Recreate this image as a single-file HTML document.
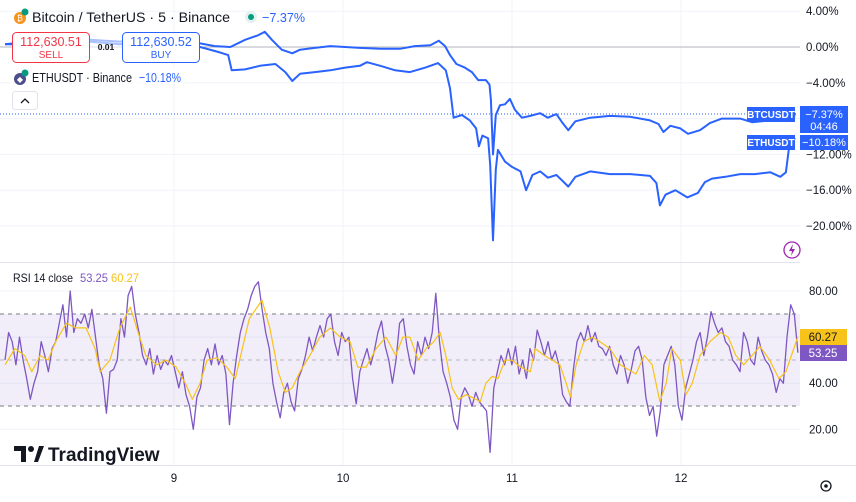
<!DOCTYPE html>
<html><head><meta charset="utf-8"><style>
body{margin:0;background:#fff;font-family:"Liberation Sans",sans-serif}
svg{display:block}
text{font-family:"Liberation Sans",sans-serif}
</style></head><body>
<svg id="chart" width="856" height="502" viewBox="0 0 856 502" xmlns="http://www.w3.org/2000/svg">
<rect width="856" height="502" fill="#fff"/>
<g id="grid"></g>
<line x1="0" y1="47" x2="800" y2="47" stroke="#b2b5be" stroke-width="1"/>
<line x1="0" y1="114" x2="746" y2="114" stroke="#2962ff" stroke-width="1" stroke-dasharray="1,2"/>
<g id="price-series"></g>
<rect x="0" y="262" width="800" height="1" fill="#e0e3eb"/>
<rect x="0" y="314" width="800" height="92" fill="#7e57c2" fill-opacity="0.1"/>
<line x1="0" y1="314" x2="800" y2="314" stroke="#787b86" stroke-dasharray="4,4"/>
<line x1="0" y1="360" x2="800" y2="360" stroke="#787b86" stroke-opacity="0.5" stroke-dasharray="4,4"/>
<line x1="0" y1="406" x2="800" y2="406" stroke="#787b86" stroke-dasharray="4,4"/>
<g id="rsi-series"></g>
<rect x="0" y="465" width="856" height="1" fill="#e0e3eb"/>
<g id="axes"></g>

<g>
<circle cx="20" cy="18" r="6" fill="#f7931a"/><text x="20" y="21" font-size="8" fill="#fff" text-anchor="middle">₿</text>
<circle cx="25" cy="12" r="3.5" fill="#089981"/>
<text x="32" y="22" font-size="14" fill="#131722" textLength="198" lengthAdjust="spacingAndGlyphs">Bitcoin / TetherUS · 5 · Binance</text>
<circle cx="251" cy="17" r="6" fill="#e3f2ef"/><circle cx="251" cy="17" r="3" fill="#089981"/>
<text x="262" y="22" font-size="13" fill="#2962ff" textLength="43" lengthAdjust="spacingAndGlyphs">−7.37%</text>
</g>
<g>
<rect x="12.5" y="32.5" width="77" height="30" rx="4" fill="#fff" stroke="#f23645"/>
<text x="51" y="46" font-size="12.5" fill="#f23645" text-anchor="middle">112,630.51</text>
<text x="51" y="58" font-size="10" fill="#f23645" text-anchor="middle">SELL</text>
</g>
<rect x="90" y="36" width="32" height="22" fill="#fff" fill-opacity="0.6"/>
<text x="106" y="50" font-size="8.5" font-weight="bold" fill="#131722" text-anchor="middle">0.01</text>
<g>
<rect x="122.5" y="32.5" width="77" height="30" rx="4" fill="#fff" stroke="#2962ff"/>
<text x="161" y="46" font-size="12.5" fill="#2962ff" text-anchor="middle">112,630.52</text>
<text x="161" y="58" font-size="10" fill="#2962ff" text-anchor="middle">BUY</text>
</g>
<g>
<rect x="10" y="66" width="175" height="18" fill="#fff" fill-opacity="0.7"/>
<circle cx="20" cy="79" r="6" fill="#4a4f8a"/><text x="20" y="82" font-size="8" fill="#fff" text-anchor="middle">◆</text>
<circle cx="25" cy="73" r="3.5" fill="#089981"/>
<text x="32" y="82" font-size="13" fill="#131722" textLength="100" lengthAdjust="spacingAndGlyphs">ETHUSDT · Binance</text>
<text x="139" y="82" font-size="13" fill="#2962ff" textLength="42" lengthAdjust="spacingAndGlyphs">−10.18%</text>
</g>
<g>
<rect x="12.5" y="91.5" width="25" height="18" rx="3" fill="#fff" stroke="#e0e3eb"/>
<path d="M21 103 L25 99 L29 103" fill="none" stroke="#131722" stroke-width="1.3"/>
</g>
<g>
<text x="13" y="282" font-size="12" fill="#131722" textLength="60" lengthAdjust="spacingAndGlyphs">RSI 14 close</text>
<text x="80" y="282" font-size="12" fill="#7e57c2" textLength="28" lengthAdjust="spacingAndGlyphs">53.25</text>
<text x="111" y="282" font-size="12" fill="#f7c21a" textLength="28" lengthAdjust="spacingAndGlyphs">60.27</text>
</g>
<g>
<path d="M14 446 h12 v16 h-5 v-11 h-7z" fill="#131722"/>
<circle cx="31" cy="449" r="3" fill="#131722"/>
<path d="M34 462 L39 446 h5 l-6 16z" fill="#131722"/>
<text x="48" y="461" font-size="19" font-weight="bold" fill="#131722">TradingView</text>
</g>
<g>
<circle cx="792" cy="250" r="8" fill="#fff" stroke="#9c27b0" stroke-width="1.3"/>
<path d="M793 244 L789 251 h3 l-1 5 l4 -7 h-3z" fill="#9c27b0"/>
</g>
<g>
<circle cx="826" cy="486" r="5" fill="none" stroke="#131722" stroke-width="1.3"/>
<circle cx="826" cy="486" r="1.8" fill="#131722"/>
</g>
<g>
<rect x="747" y="107" width="48" height="15" fill="#2962ff"/>
<text x="771" y="118" font-size="10" font-weight="bold" fill="#fff" text-anchor="middle">BTCUSDT</text>
<rect x="800" y="106" width="48" height="27" fill="#2962ff"/>
<text x="824" y="118" font-size="11" fill="#fff" text-anchor="middle">−7.37%</text>
<text x="824" y="130" font-size="11" fill="#fff" text-anchor="middle">04:46</text>
<rect x="747" y="135" width="48" height="15" fill="#2962ff"/>
<text x="771" y="146" font-size="10" font-weight="bold" fill="#fff" text-anchor="middle">ETHUSDT</text>
<rect x="800" y="135" width="48" height="15" fill="#2962ff"/>
<text x="824" y="146" font-size="11" fill="#fff" text-anchor="middle">−10.18%</text>
<rect x="800" y="329" width="47" height="16" fill="#f7c21a"/>
<text x="823" y="341" font-size="11.5" fill="#131722" text-anchor="middle">60.27</text>
<rect x="800" y="345" width="47" height="16" fill="#7e57c2"/>
<text x="823" y="357" font-size="11.5" fill="#fff" text-anchor="middle">53.25</text>
</g>
</svg>
<script>
const btcHours=[0,3.6,7.8,12.1,16.3,20.6,24.9,27.7,29.8,32.0,34.1,35.9,36.9,37.9,39.3,40.8,41.9,44.0,46.2,48.3,50.4,53.3,56.1,58.2,60.4,61.6,62.5,63.2,64.1,65.3,66.3,67.2,68.3,68.8,69.0,69.3,69.7,70.3,71.0,71.7,72.4,73.4,74.6,76.0,77.1,78.3,79.1,80.0,81.0,83.1,85.9,88.8,91.6,92.8,93.5,94.5,95.9,97.0,98.7,100.1,101.8,104.4,106.1,108.7,110.9,111.5,111.9,112.2];
const btcPct=[0.3,0.6,0.3,0.8,0.6,1.0,0.6,0.4,0.1,0.0,0.8,1.3,1.7,0.8,-0.3,-0.7,-0.3,-0.1,0.1,0.0,-0.1,-0.2,-0.2,0.1,0.2,0.7,0.1,-0.9,-1.9,-2.3,-2.8,-3.7,-3.7,-4.2,-5.9,-12.0,-7.6,-6.5,-6.4,-5.8,-7.0,-7.9,-7.7,-7.4,-7.9,-7.5,-8.4,-9.3,-8.3,-7.9,-7.7,-7.8,-8.2,-8.6,-9.5,-8.8,-9.1,-9.7,-9.3,-8.5,-8.0,-8.0,-8.4,-8.2,-8.2,-7.3,-8.2,-7.37];
const ethHours=[0,3.6,7.8,12.1,16.3,20.6,24.9,27.7,30.5,31.7,32.2,34.1,36.2,38.4,39.8,40.8,41.9,44.0,46.2,48.3,50.4,51.4,53.3,55.4,57.5,59.7,61.5,62.6,63.2,63.7,64.9,66.0,66.9,67.3,67.8,68.6,68.9,69.3,69.7,70.0,71.0,72.0,73.2,74.0,74.9,76.0,77.1,78.3,79.1,80.0,81.0,83.1,85.9,88.8,91.6,92.5,93.0,93.8,95.2,96.9,98.4,99.4,100.4,102.3,104.4,106.5,108.7,110.1,110.9,111.4,112.2];
const ethPct=[0.3,0.3,0.1,0.6,0.3,0.8,0.3,0.0,-0.6,-0.9,-2.6,-2.5,-2.1,-1.9,-2.8,-3.8,-3.0,-2.8,-2.6,-2.3,-2.1,-1.7,-2.1,-2.6,-2.8,-2.3,-1.8,-2.6,-4.6,-7.9,-7.6,-8.2,-9.1,-11.1,-9.9,-10.2,-13.2,-21.6,-13.7,-11.5,-12.8,-13.4,-13.9,-16.0,-14.3,-13.9,-14.6,-14.3,-14.9,-15.6,-14.5,-13.9,-14.2,-14.2,-14.4,-15.2,-17.7,-16.5,-16.0,-16.8,-16.3,-15.1,-14.7,-14.5,-14.2,-14.2,-14.0,-14.5,-14.0,-10.9,-10.18];
const rsiValues=[50,62,58,48,60,50,42,33,40,45,58,52,45,55,58,66,74,60,80,62,68,66,70,64,72,60,48,42,27,45,46,50,68,60,78,82,70,62,52,48,55,44,52,46,50,48,52,45,38,45,35,30,20,34,38,50,55,48,57,48,52,44,22,40,52,62,68,72,78,82,84,72,62,55,40,32,25,36,40,32,28,42,46,52,60,54,60,65,60,68,70,58,52,62,58,60,42,31,45,50,55,48,54,62,67,56,50,40,50,66,68,56,48,44,58,52,60,55,62,79,58,45,40,34,24,20,34,38,35,30,36,32,30,28,10,38,45,52,48,55,48,56,44,50,42,55,50,63,58,52,58,50,54,48,35,32,30,46,58,62,58,65,58,62,56,55,52,56,48,44,52,48,40,46,54,56,50,34,26,30,17,28,48,52,56,48,30,24,38,44,50,58,62,52,60,71,66,62,64,58,56,50,48,45,62,58,50,48,60,54,50,48,44,36,42,40,60,74,70,53.25];
const rsiMaHours=[0,1.4,2.8,3.8,5.0,6.1,7.2,8.7,10.1,11.5,12.8,13.5,14.9,16.3,17.8,18.9,20.0,21.5,22.9,24.3,25.6,26.6,27.7,28.7,30.1,31.5,32.7,33.7,34.7,36.5,37.6,38.8,39.8,40.8,41.9,43.3,44.7,46.2,47.6,49.0,50.1,51.3,52.7,54.1,55.5,56.5,57.5,58.7,59.8,60.9,61.8,62.6,63.5,64.4,65.5,66.9,67.5,68.3,69.2,70.0,71.0,72.0,73.2,74.6,75.3,76.6,77.7,78.8,79.7,80.3,81.1,82.2,83.4,84.5,85.9,87.4,88.5,89.6,90.8,91.9,93.0,93.9,94.7,95.9,96.7,97.6,98.7,100.1,101.6,102.7,103.8,104.9,106.1,107.2,108.6,109.9,110.9,112.6];
const rsiMaValues=[48,55,52,45,52,50,58,66,64,64,55,45,50,64,73,62,52,48,50,47,40,33,40,50,51,47,42,55,68,76,64,45,36,38,45,52,60,64,60,58,47,47,55,60,52,60,60,50,55,58,62,52,38,33,35,33,32,40,43,42,50,50,47,45,55,52,50,48,40,34,48,58,60,58,55,48,46,44,52,48,32,40,55,50,35,40,52,58,62,60,52,48,52,56,50,42,45,60.27];
const priceTicks=[4,0,-4,-12,-16,-20];
const priceTickLabels=["4.00%","0.00%","−4.00%","−12.00%","−16.00%","−20.00%"];
const gridPct=[4,-4,-8,-12,-16,-20];
const rsiTicks=[80,40,20];
const rsiGrid=[80,60,40,20];
const dayHours=[24,48,72,96];
const dayLabels=["9","10","11","12"];

const NS="http://www.w3.org/2000/svg";
const X0=5,PXH=169/24,RSI_END=112.6;
function xOf(h){return X0+h*PXH;}
function yPrice(p){return 47-p*8.95;}
function yRsi(v){return 291+(80-v)*2.305;}
function mk(tag,attrs,parent){const e=document.createElementNS(NS,tag);for(const k in attrs)e.setAttribute(k,attrs[k]);parent.appendChild(e);return e;}
const grid=document.getElementById('grid'),axes=document.getElementById('axes');
gridPct.forEach(p=>{const l=mk('line',{x1:0,x2:800,y1:yPrice(p),y2:yPrice(p),stroke:'#f0f3fa'},grid);

});
rsiGrid.forEach(v=>{const l=mk('line',{x1:0,x2:800,y1:yRsi(v),y2:yRsi(v),stroke:'#f0f3fa'},grid);

});
dayHours.forEach((h,i)=>{const l=mk('line',{x1:xOf(h),x2:xOf(h),y1:0,y2:465,stroke:'#f0f3fa'},grid);


const t=mk('text',{x:xOf(h),y:482,'font-size':11.5,fill:'#131722','text-anchor':'middle'},axes);t.textContent=dayLabels[i];

});
priceTicks.forEach((p,i)=>{const t=mk('text',{x:806,y:yPrice(p)+4,'font-size':11.5,fill:'#131722'},axes);t.textContent=priceTickLabels[i];

});
rsiTicks.forEach(v=>{const t=mk('text',{x:809,y:yRsi(v)+4,'font-size':11.5,fill:'#131722'},axes);t.textContent=v.toFixed(2);

});
function path(hs,vs,yf){return hs.map((h,i)=>(i?'L':'M')+xOf(h).toFixed(1)+' '+yf(vs[i]).toFixed(1)).join(' ');}
const ps=document.getElementById('price-series');
const eth=mk('path',{d:path(ethHours,ethPct,yPrice),fill:'none',stroke:'#2962ff','stroke-width':2,'stroke-linejoin':'round'},ps);


const btc=mk('path',{d:path(btcHours,btcPct,yPrice),fill:'none',stroke:'#2962ff','stroke-width':2,'stroke-linejoin':'round'},ps);


const rs=document.getElementById('rsi-series');
const rsiH=rsiValues.map((v,i)=>i*RSI_END/(rsiValues.length-1));
const rl=mk('path',{d:path(rsiH,rsiValues,yRsi),fill:'none',stroke:'#7e57c2','stroke-width':1.3,'stroke-linejoin':'round'},rs);


const ml=mk('path',{d:path(rsiMaHours,rsiMaValues,yRsi),fill:'none',stroke:'#f7c21a','stroke-width':1.2,'stroke-linejoin':'round'},rs);


</script>
</body></html>
